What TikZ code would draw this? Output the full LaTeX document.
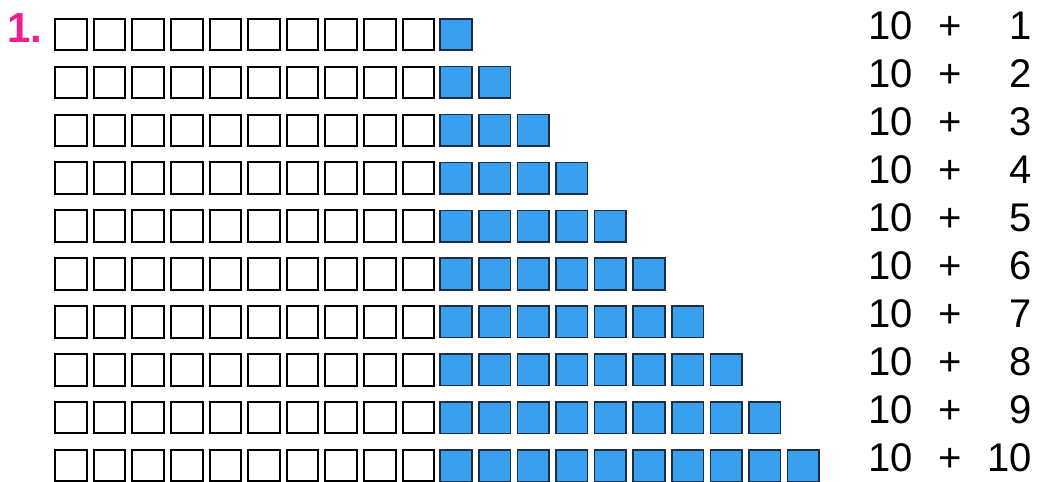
\documentclass[tikz,border=0pt]{standalone}
\usepackage{fontspec}
\setmainfont{Liberation Sans}
\definecolor{sqblue}{RGB}{56,160,238}
\definecolor{sqedge}{RGB}{30,45,70}
\definecolor{numpink}{RGB}{240,30,140}
\begin{document}
\begin{tikzpicture}[x=1pt,y=-1pt,
  whitesq/.style={draw=black,line width=2pt,fill=white,minimum size=31.5pt,inner sep=0pt,outer sep=0pt},
  bluesq/.style={draw=sqedge,line width=1.6pt,fill=sqblue,minimum size=31.5pt,inner sep=0pt,outer sep=0pt},
  sumtxt/.style={inner sep=0pt,font=\fontsize{40}{44}\selectfont},
  labeltxt/.style={inner sep=0pt,text=numpink,font=\fontsize{42}{46}\selectfont\bfseries}]
\useasboundingbox (0,0) rectangle (1039,482);
\fill[white] (0,0) rectangle (1039,482);
\node[labeltxt,anchor=base west] (lab) at (7,42) {1.};
\foreach \r in {0,...,9}{
  \pgfmathsetmacro{\yy}{34.5+47.9*\r}
  \foreach \c in {0,...,9}{
    \pgfmathsetmacro{\xx}{71+38.6*\c}
    \node[whitesq] (w-\r-\c) at (\xx,\yy) {};
  }
  \pgfmathtruncatemacro{\last}{\r}
  \foreach \c in {0,...,\last}{
    \pgfmathsetmacro{\xx}{456+38.6*\c}
    \node[bluesq] (b-\r-\c) at (\xx,\yy) {};
  }
  \pgfmathsetmacro{\ty}{39.5+48*\r}
  \pgfmathtruncatemacro{\n}{\r+1}
  \node[sumtxt,anchor=base west] (ten-\r) at (868,\ty) {10};
  \node[sumtxt,anchor=base] (plus-\r) at (950,\ty) {+};
  \node[sumtxt,anchor=base east] (num-\r) at (1032,\ty) {\n};
}
\end{tikzpicture}
\end{document}
